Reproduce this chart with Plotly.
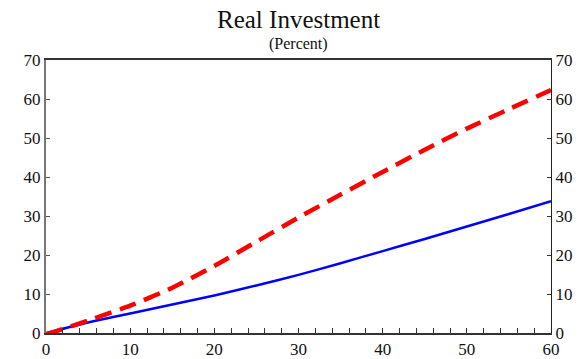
import plotly.graph_objects as go

# quarters after shock
quarters = [0, 5, 10, 15, 20, 25, 30, 35, 40, 45, 50, 55, 60]
# percent deviation
blue_vals = [0.0, 2.7, 5.0, 7.3, 9.6, 12.2, 14.9, 17.9, 21.0, 24.1, 27.3, 30.5, 33.8]
red_vals = [-0.4, 3.2, 7.0, 11.6, 17.2, 23.4, 29.6, 35.5, 41.3, 47.0, 52.4, 57.4, 62.3]

y_ticks = [0, 10, 20, 30, 40, 50, 60, 70]
x_ticks = [0, 10, 20, 30, 40, 50, 60]

FONT = "Liberation Serif"

fig = go.Figure()
fig.add_trace(go.Scatter(
    x=quarters, y=blue_vals, mode="lines",
    line=dict(color="#0000ff", width=2.5, shape="spline", smoothing=0.6),
    showlegend=False,
))
fig.add_trace(go.Scatter(
    x=quarters, y=red_vals, mode="lines",
    line=dict(color="#ff0000", width=4.5, dash="17px,9px",
              shape="spline", smoothing=0.6),
    showlegend=False,
))
# invisible trace to drive the right-hand axis
fig.add_trace(go.Scatter(
    x=[quarters[0]], y=[y_ticks[0]], yaxis="y2", mode="markers",
    marker=dict(opacity=0), showlegend=False, hoverinfo="skip",
))

fig.update_layout(
    width=579, height=359,
    margin=dict(l=46, r=28, t=60, b=26),
    paper_bgcolor="white", plot_bgcolor="white",
    font=dict(family=FONT, color="#111111", size=17),
    annotations=[
        dict(text="Real Investment", x=0.5, y=1, xref="paper", yref="paper",
             xanchor="center", yanchor="bottom", yshift=25, showarrow=False,
             font=dict(family=FONT, size=25, color="#111111")),
        dict(text="(Percent)", x=0.5, y=1, xref="paper", yref="paper",
             xanchor="center", yanchor="bottom", yshift=5, showarrow=False,
             font=dict(family=FONT, size=16, color="#111111")),
    ],
    xaxis=dict(
        range=[0, 60], tickvals=x_ticks, ticks="inside", ticklen=5,
        tickcolor="#333333", showline=True, linecolor="#333333", linewidth=1.5,
        mirror=True, showgrid=False, zeroline=False, automargin=False,
        minor=dict(dtick=2, ticks="inside", ticklen=5, tickcolor="#333333"),
        tickfont=dict(family=FONT, size=17),
    ),
    yaxis=dict(
        range=[0, 70], tickvals=y_ticks, ticks="inside", ticklen=4,
        tickcolor="#555555", showline=True, linecolor="#777777", linewidth=2,
        showgrid=False, zeroline=False, automargin=False,
        tickfont=dict(family=FONT, size=17),
    ),
    yaxis2=dict(
        range=[0, 70], tickvals=y_ticks, ticks="inside", ticklen=4,
        tickcolor="#333333", showline=True, linecolor="#222222", linewidth=1,
        overlaying="y", side="right", showgrid=False, zeroline=False,
        automargin=False, tickfont=dict(family=FONT, size=17),
    ),
)

# the page body has a default 8px margin, which would shift and crop the chart
fig.write_html(
    "out.html",
    config={"displayModeBar": False},
    post_script="document.body.style.margin='0';",
)
